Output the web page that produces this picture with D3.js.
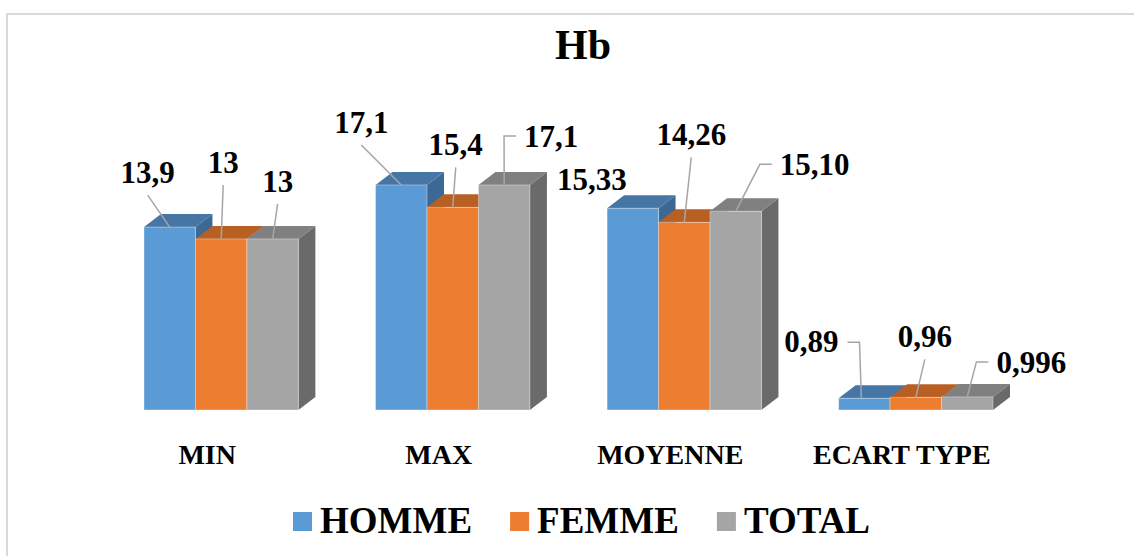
<!DOCTYPE html>
<html>
<head>
<meta charset="utf-8">
<script src="https://cdn.jsdelivr.net/npm/d3@7/dist/d3.min.js"></script>
<style>
  html, body { margin: 0; padding: 0; background: #ffffff; }
  svg { display: block; }
  text { font-family: "Liberation Serif", "Times New Roman", serif; font-weight: bold; fill: #000; }
</style>
</head>
<body>
<script>
// Hb statistics by sex
const categories = ["MIN", "MAX", "MOYENNE", "ECART TYPE"];
const seriesNames = ["HOMME", "FEMME", "TOTAL"];
const hommeValues = [13.9, 17.1, 15.33, 0.89];
const femmeValues = [13, 15.4, 14.26, 0.96];
const totalValues = [13, 17.1, 15.10, 0.996];
// decimals shown in each value label
const hommeDecimals = [1, 1, 2, 2];
const femmeDecimals = [0, 1, 2, 2];
const totalDecimals = [0, 1, 2, 3];
const titleText = "Hb";

// label placement: [dx of text centre, dy of baseline] from the bar's top centre, leader style
const hommeLabelPlacement = [[-22, -44, "below"], [-40, -52, "below"], [-41, -18, "none"], [-53, -46, "right"]];
const femmeLabelPlacement = [[2, -66, "below"], [3, -52, "below"], [7, -77, "below"], [9, -50, "below"]];
const totalLabelPlacement = [[5, -47, "below"], [47, -38, "left"], [79, -36, "left"], [64, -24, "left"]];

const colors = {
  HOMME: { front: "#5b9bd5", top: "#4676a6", side: "#3d6893" },
  FEMME: { front: "#ed7d31", top: "#b85f23", side: "#ad5920" },
  TOTAL: { front: "#a5a5a5", top: "#808080", side: "#6a6a6a" }
};

const series = [
  { name: "HOMME", values: hommeValues, decimals: hommeDecimals, placement: hommeLabelPlacement },
  { name: "FEMME", values: femmeValues, decimals: femmeDecimals, placement: femmeLabelPlacement },
  { name: "TOTAL", values: totalValues, decimals: totalDecimals, placement: totalLabelPlacement }
];

const W = 1134, H = 556;
const svg = d3.select("body").append("svg").attr("width", W).attr("height", H);

// chart frame
svg.append("rect")
  .attr("x", 7).attr("y", 14).attr("width", 1300).attr("height", 700)
  .attr("fill", "none").attr("stroke", "#d9d9d9").attr("stroke-width", 2);

const frLocale = d3.formatLocale({ decimal: ",", thousands: " ", grouping: [3], currency: ["", " €"] });
const fmt = (v, d) => frLocale.format("." + d + "f")(v);

const x0 = d3.scaleBand().domain(categories).range([144, 993]).paddingInner(1 / 3).paddingOuter(0);
const x1 = d3.scaleBand().domain(seriesNames).range([0, x0.bandwidth()]).padding(0);
const y = d3.scaleLinear().domain([0, 20]).range([410, 410 - 20 * 13.16]);

const DX = 17, DY = 13; // 3D depth offset

// title
svg.append("text")
  .attr("x", 583).attr("y", 59)
  .attr("text-anchor", "middle")
  .style("font-size", "42px")
  .text(titleText);

// bars
const barsG = svg.append("g");
const bars = [];
categories.forEach((cat, ci) => {
  series.forEach(s => {
    const v = s.values[ci];
    const xl = x0(cat) + x1(s.name);
    const xr = xl + x1.bandwidth();
    const yt = y(v), yb = y(0);
    const c = colors[s.name];
    const g = barsG.append("g");
    g.append("polygon")
      .attr("points", [[xr, yt], [xr + DX, yt - DY], [xr + DX, yb - DY], [xr, yb]].join(" "))
      .attr("fill", c.side);
    g.append("polygon")
      .attr("points", [[xl, yt], [xl + DX, yt - DY], [xr + DX, yt - DY], [xr, yt]].join(" "))
      .attr("fill", c.top);
    g.append("rect")
      .attr("x", xl).attr("y", yt)
      .attr("width", x1.bandwidth()).attr("height", yb - yt)
      .attr("fill", c.front)
      .attr("stroke", "rgba(255,255,255,0.35)").attr("stroke-width", 1);
    bars.push({ s, ci, v, cx: (xl + xr) / 2, top: yt });
  });
});

// value labels with leader lines
const leaderG = svg.append("g");
const labelG = svg.append("g");
bars.forEach(b => {
  const [dx, dy, style] = b.s.placement[b.ci];
  const tx = b.cx + dx, ty = b.top + dy;
  const t = labelG.append("text")
    .attr("x", tx).attr("y", ty)
    .attr("text-anchor", "middle")
    .style("font-size", "31px")
    .text(fmt(b.v, b.s.decimals[b.ci]));
  const w = t.node().getComputedTextLength();
  let pts = null;
  if (style === "below") {
    pts = [[tx, ty + 12], [b.cx, b.top]];
  } else if (style === "left") {
    const bx = tx - w / 2 - 8;
    pts = [[bx, ty - 11], [bx - 12, ty - 11], [b.cx, b.top]];
  } else if (style === "right") {
    const bx = tx + w / 2 + 9;
    pts = [[bx, ty - 10], [bx + 12, ty - 10], [b.cx - 3, b.top]];
  }
  if (pts) {
    leaderG.append("polyline")
      .attr("points", pts.join(" "))
      .attr("fill", "none")
      .attr("stroke", "#a6a6a6")
      .attr("stroke-width", 1.5);
  }
});

// category labels
svg.append("g").selectAll("text")
  .data(categories)
  .join("text")
  .attr("x", d => x0(d) + x0.bandwidth() / 2 - 14)
  .attr("y", 464)
  .attr("text-anchor", "middle")
  .style("font-size", "28px")
  .text(d => d);

// legend
const legendG = svg.append("g");
let lx = 293;
seriesNames.forEach(name => {
  legendG.append("rect")
    .attr("x", lx).attr("y", 512).attr("width", 19).attr("height", 19)
    .attr("fill", colors[name].front);
  const t = legendG.append("text")
    .attr("x", lx + 27).attr("y", 533)
    .style("font-size", "37px")
    .text(name);
  lx += 27 + t.node().getComputedTextLength() + 38;
});
</script>
</body>
</html>
